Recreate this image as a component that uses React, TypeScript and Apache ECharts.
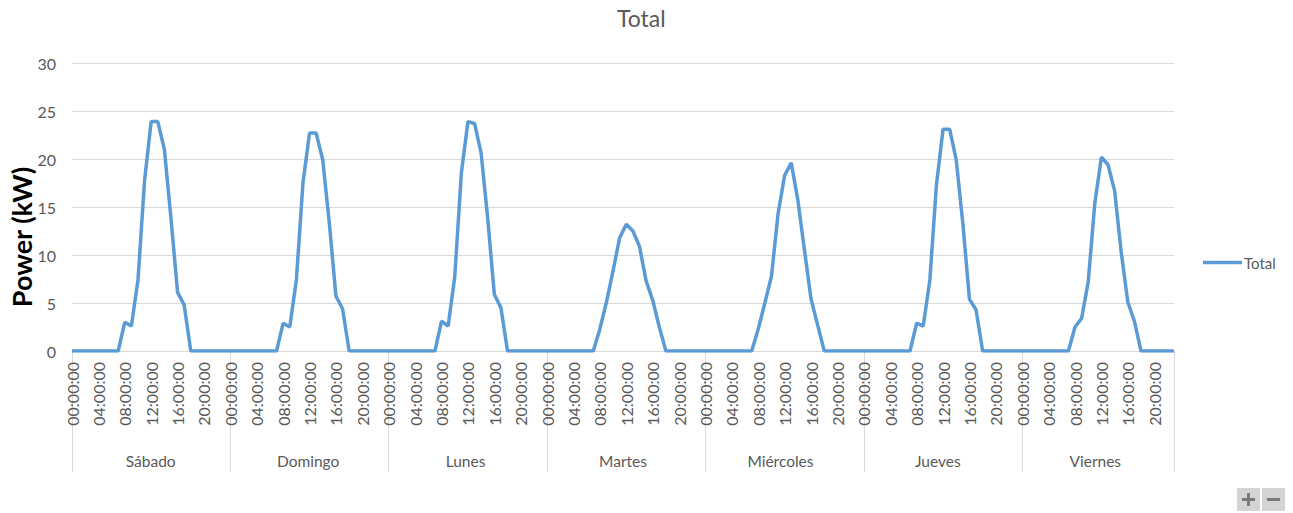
import React, { useEffect, useRef } from "react";
import * as echarts from "echarts";

const TITLE = "Total";
const Y_NAME = "Power (kW)";
const SERIES_NAME = "Total";
const DAYS = ["Sábado", "Domingo", "Lunes", "Martes", "Miércoles", "Jueves", "Viernes"];
const HOUR_LABELS = [
  "00:00:00", "01:00:00", "02:00:00", "03:00:00", "04:00:00", "05:00:00",
  "06:00:00", "07:00:00", "08:00:00", "09:00:00", "10:00:00", "11:00:00",
  "12:00:00", "13:00:00", "14:00:00", "15:00:00", "16:00:00", "17:00:00",
  "18:00:00", "19:00:00", "20:00:00", "21:00:00", "22:00:00", "23:00:00",
];
const Y_TICKS = { min: 0, max: 30, interval: 5 };

const SABADO = [0, 0, 0, 0, 0, 0, 0, 0, 3.0, 2.6, 7.4, 17.8, 23.9, 23.9, 21.0, 13.8, 6.1, 4.8, 0, 0, 0, 0, 0, 0];
const DOMINGO = [0, 0, 0, 0, 0, 0, 0, 0, 2.9, 2.5, 7.4, 17.5, 22.7, 22.7, 19.9, 13.3, 5.7, 4.4, 0, 0, 0, 0, 0, 0];
const LUNES = [0, 0, 0, 0, 0, 0, 0, 0, 3.1, 2.6, 7.7, 18.5, 23.9, 23.7, 20.6, 13.8, 5.9, 4.5, 0, 0, 0, 0, 0, 0];
const MARTES = [0, 0, 0, 0, 0, 0, 0, 0, 2.3, 5.1, 8.4, 11.8, 13.2, 12.5, 10.9, 7.3, 5.3, 2.5, 0, 0, 0, 0, 0, 0];
const MIERCOLES = [0, 0, 0, 0, 0, 0, 0, 0, 2.3, 5.0, 7.8, 14.3, 18.3, 19.6, 15.7, 10.5, 5.4, 2.7, 0, 0, 0, 0, 0, 0];
const JUEVES = [0, 0, 0, 0, 0, 0, 0, 0, 2.9, 2.6, 7.4, 17.3, 23.1, 23.1, 19.9, 13.3, 5.4, 4.3, 0, 0, 0, 0, 0, 0];
const VIERNES = [0, 0, 0, 0, 0, 0, 0, 0, 2.5, 3.4, 7.2, 15.4, 20.2, 19.4, 16.7, 10.3, 5.1, 3.1, 0, 0, 0, 0, 0, 0];

const DAY_VALUES = [SABADO, DOMINGO, LUNES, MARTES, MIERCOLES, JUEVES, VIERNES];

const FONT = "Lato";
const GRAY = "#595959";
const GRID = "#d9d9d9";
const BLUE = "#5b9bd5";

export default function App() {
  const ref = useRef<HTMLDivElement>(null);

  useEffect(() => {
    if (!ref.current) return;
    const chart = echarts.init(ref.current, undefined, { renderer: "svg" });

    const categories: string[] = [];
    const values: number[] = [];
    DAYS.forEach((_, d) => {
      HOUR_LABELS.forEach((h, i) => {
        categories.push(h);
        values.push(DAY_VALUES[d][i]);
      });
    });
    const total = categories.length;
    const perDay = HOUR_LABELS.length;

    chart.setOption({
      animation: false,
      backgroundColor: "#ffffff",
      textStyle: { fontFamily: FONT },
      title: {
        text: TITLE,
        left: 617,
        top: 6,
        padding: 0,
        textStyle: { fontFamily: FONT, fontSize: 23, fontWeight: "normal", color: GRAY },
      },
      legend: {
        orient: "vertical",
        left: 1203,
        top: 255,
        padding: 0,
        icon: "rect",
        itemWidth: 39,
        itemHeight: 3.5,
        itemGap: 0,
        textStyle: { fontFamily: FONT, fontSize: 15, color: GRAY, padding: [0, 0, 0, -3] },
        data: [SERIES_NAME],
      },
      grid: { left: 72, right: 119, top: 63, bottom: 162, containLabel: false, outerBoundsMode: "none" },
      xAxis: [
        {
          type: "category",
          data: categories,
          boundaryGap: false,
          axisLine: { show: true, lineStyle: { color: GRID, width: 1 } },
          axisTick: {
            show: true,
            length: 121,
            interval: (index: number) => index % perDay === 0 || index === total - 1,
            lineStyle: { color: GRID, width: 1 },
          },
          axisLabel: {
            interval: (index: number) => index % 4 === 0,
            rotate: 90,
            margin: 11,
            fontFamily: FONT,
            fontSize: 16,
            color: GRAY,
          },
          splitLine: { show: false },
        },
        {
          type: "category",
          data: DAYS,
          position: "bottom",
          offset: 98,
          boundaryGap: true,
          axisLine: { show: false },
          axisTick: { show: false },
          axisLabel: { margin: 4, fontFamily: FONT, fontSize: 15.5, color: GRAY },
          splitLine: { show: false },
        },
      ],
      yAxis: {
        type: "value",
        min: Y_TICKS.min,
        max: Y_TICKS.max,
        interval: Y_TICKS.interval,
        axisLine: { show: false },
        axisTick: { show: false },
        axisLabel: { margin: 16, fontFamily: FONT, fontSize: 16, color: GRAY },
        splitLine: { show: true, lineStyle: { color: GRID, width: 1 } },
      },
      series: [
        {
          name: SERIES_NAME,
          type: "line",
          data: values,
          xAxisIndex: 0,
          showSymbol: false,
          symbol: "none",
          lineStyle: { color: BLUE, width: 3.5 },
          itemStyle: { color: BLUE },
        },
      ],
      graphic: [
        {
          type: "text",
          x: 21,
          y: 237,
          rotation: Math.PI / 2,
          style: {
            text: Y_NAME,
            fontFamily: FONT,
            fontSize: 27,
            fontWeight: "bold",
            fill: "#000000",
            align: "center",
            verticalAlign: "middle",
          },
        },
        {
          type: "group",
          left: 1237,
          top: 488,
          children: [
            { type: "rect", shape: { x: 0, y: 0, width: 23, height: 23 }, style: { fill: "#d4d4d4" } },
            { type: "rect", shape: { x: 25, y: 0, width: 23, height: 23 }, style: { fill: "#d4d4d4" } },
            { type: "rect", shape: { x: 5, y: 10, width: 13, height: 3 }, style: { fill: "#7a7a7a" } },
            { type: "rect", shape: { x: 10, y: 5, width: 3, height: 13 }, style: { fill: "#7a7a7a" } },
            { type: "rect", shape: { x: 30, y: 10, width: 13, height: 3 }, style: { fill: "#7a7a7a" } },
          ],
        },
      ],
    });

    return () => chart.dispose();
  }, []);

  return (
    <div
      ref={ref}
      style={{ position: "absolute", left: 0, top: 0, width: 1293, height: 513 }}
    />
  );
}
